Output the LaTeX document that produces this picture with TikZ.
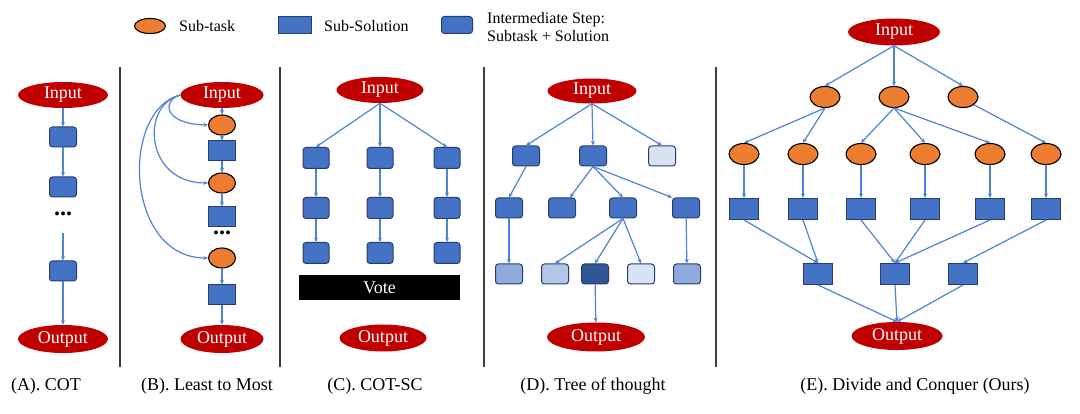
\documentclass[tikz,border=0pt]{standalone}
\usepackage{fontspec}
\setmainfont{Liberation Serif}
\usetikzlibrary{shapes.geometric,arrows.meta}
\definecolor{ioRed}{RGB}{192,0,0}
\definecolor{subOrange}{RGB}{237,125,49}
\definecolor{solBlue}{RGB}{68,114,196}
\definecolor{solEdge}{RGB}{38,62,110}
\definecolor{lineBlue}{RGB}{80,130,215}
\definecolor{lightA}{RGB}{143,170,220}
\definecolor{lightB}{RGB}{180,199,231}
\definecolor{lightC}{RGB}{218,227,243}
\definecolor{darkSol}{RGB}{47,85,151}
\definecolor{divGray}{RGB}{60,60,60}
\newcommand\fio{\fontsize{18}{20}\selectfont}
\newcommand\flab{\fontsize{18}{21}\selectfont}
\newcommand\fleg{\fontsize{16}{18}\selectfont}
\tikzset{
  io/.style={ellipse,fill=ioRed,draw=none,text=white,inner sep=0pt,font=\fio},
  subtask/.style={ellipse,fill=subOrange,draw=black,line width=1.1pt,inner sep=0pt,minimum width=27pt,minimum height=20pt},
  subsol/.style={rectangle,fill=solBlue,draw=solEdge,line width=1pt,inner sep=0pt,minimum width=27pt,minimum height=20pt},
  stepbox/.style={rectangle,rounded corners=3pt,fill=solBlue,draw=solEdge,line width=1pt,inner sep=0pt,minimum width=27pt,minimum height=20pt},
  arr/.style={draw=lineBlue,line width=1.2pt,-{Stealth[length=4.5pt,width=4pt]}},
  divider/.style={draw=divGray,line width=1.3pt},
  caption/.style={font=\flab,inner sep=0pt},
  legtext/.style={font=\fleg,inner sep=0pt,anchor=west,align=left},
  dotsnode/.style={font=\bfseries\fontsize{24}{24}\selectfont,inner sep=0pt}
}
\begin{document}
\begin{tikzpicture}[x=1pt,y=-1pt]
\useasboundingbox (0,0) rectangle (1080,414);
\fill[white] (0,0) rectangle (1080,414);

% ---------- legend ----------
\node[subtask,minimum width=31pt,minimum height=15pt] (lg1) at (150,26) {};
\node[legtext] (lt1) at (179,26) {Sub-task};
\node[subsol,minimum width=33pt,minimum height=17pt] (lg2) at (295,25) {};
\node[legtext] (lt2) at (324,26) {Sub-Solution};
\node[stepbox,minimum width=31pt,minimum height=17pt] (lg3) at (457,25) {};
\node[legtext] (lt3) at (487,27) {Intermediate Step:\\Subtask + Solution};

% ---------- dividers ----------
\coordinate (v1a) at (120,67); \coordinate (v1b) at (120,367);
\coordinate (v2a) at (280,67); \coordinate (v2b) at (280,367);
\coordinate (v3a) at (484,67); \coordinate (v3b) at (484,367);
\coordinate (v4a) at (716,67); \coordinate (v4b) at (716,367);
\draw[divider] (v1a) -- (v1b);
\draw[divider] (v2a) -- (v2b);
\draw[divider] (v3a) -- (v3b);
\draw[divider] (v4a) -- (v4b);

% ---------- (A) COT ----------
\node[io,minimum width=90pt,minimum height=26pt] (inA) at (63,95) {Input};
\node[stepbox] (a1) at (63,137) {};
\node[stepbox] (a2) at (63,187) {};
\node[dotsnode] (dA) at (63,214) {...};
\coordinate (dAe) at (63,233);
\node[stepbox] (a3) at (63,271) {};
\node[io,minimum width=90pt,minimum height=28pt] (outA) at (63,339) {Output};
\draw[arr] (inA) -- (a1);
\draw[arr] (a1) -- (a2);
\draw[arr] (dAe) -- (a3);
\draw[arr] (a3) -- (outA);

% ---------- (B) Least to Most ----------
\node[io,minimum width=83pt,minimum height=26pt] (inB) at (222,95) {Input};
\node[subtask] (b1e) at (222,125) {};
\node[subsol] (b1s) at (222,151) {};
\node[subtask] (b2e) at (222,183) {};
\node[subsol] (b2s) at (222,217) {};
\node[dotsnode] (dB) at (222,233) {...};
\node[subtask] (b3e) at (222,258) {};
\node[subsol] (b3s) at (222,295) {};
\node[io,minimum width=83pt,minimum height=28pt] (outB) at (222,339) {Output};
\draw[arr] (inB) -- (b1e);
\draw[arr] (b1e) -- (b1s);
\draw[arr] (b1s) -- (b2e);
\draw[arr] (b2e) -- (b2s);
\draw[arr] (b3e) -- (b3s);
\draw[arr] (b3s) -- (outB);
\draw[arr] (inB.west) .. controls (162,100) and (163,124) .. (b1e.west);
\draw[arr] (inB.west) .. controls (140,105) and (145,183) .. (b2e.west);
\draw[arr] (inB.west) .. controls (120,110) and (125,258) .. (b3e.west);

% ---------- (C) COT-SC ----------
\node[io,minimum width=87pt,minimum height=26pt] (inC) at (380,90) {Input};
\foreach \c/\x in {1/316,2/380,3/447}{
  \node[stepbox,minimum width=26pt,minimum height=21pt] (c1\c) at (\x,158) {};
  \node[stepbox,minimum width=26pt,minimum height=21pt] (c2\c) at (\x,208) {};
  \node[stepbox,minimum width=26pt,minimum height=21pt] (c3\c) at (\x,253) {};
  \draw[arr] (inC.south) -- (c1\c.north);
  \draw[arr] (c1\c) -- (c2\c);
  \draw[arr] (c2\c) -- (c3\c);
}
\node[rectangle,fill=black,text=white,inner sep=0pt,minimum width=161pt,minimum height=25pt,font=\fio] (vote) at (379.5,287.5) {Vote};
\node[io,minimum width=87pt,minimum height=27pt] (outC) at (383,338) {Output};

% ---------- (D) Tree of thought ----------
\node[io,minimum width=89pt,minimum height=25pt] (inD) at (592,91) {Input};
\node[stepbox] (d11) at (526,156) {};
\node[stepbox] (d12) at (593,156) {};
\node[stepbox,fill=lightC] (d13) at (662,156) {};
\node[stepbox] (d21) at (509,208) {};
\node[stepbox] (d22) at (562,208) {};
\node[stepbox] (d23) at (623,208) {};
\node[stepbox] (d24) at (686,208) {};
\node[stepbox,fill=lightA] (d31) at (509,274) {};
\node[stepbox,fill=lightB] (d32) at (555,274) {};
\node[stepbox,fill=darkSol] (d33) at (595,274) {};
\node[stepbox,fill=lightC] (d34) at (641,274) {};
\node[stepbox,fill=lightA] (d35) at (687,274) {};
\node[io,minimum width=98pt,minimum height=29pt] (outD) at (596,337) {Output};
\draw[arr] (inD.south) -- (d11.north);
\draw[arr] (inD.south) -- (d12.north);
\draw[arr] (inD.south) -- (d13.north);
\draw[arr] (d11.south) -- (d21.north);
\draw[arr] (d12.south) -- (d22);
\draw[arr] (d12.south) -- (d23.north);
\draw[arr] (d12.south) -- (d24.north west);
\draw[arr] (d21) -- (d31);
\draw[arr] (d23.south) -- (d32.north);
\draw[arr] (d23.south) -- (d33.north);
\draw[arr] (d23.south) -- (d34.north);
\draw[arr] (d24) -- (d35);
\draw[arr] (d33) -- (outD);

% ---------- (E) Divide and Conquer ----------
\node[io,minimum width=92pt,minimum height=27pt] (inE) at (894,32) {Input};
\node[subtask,minimum width=30pt,minimum height=21pt] (e11) at (825,97) {};
\node[subtask,minimum width=30pt,minimum height=21pt] (e12) at (894,97) {};
\node[subtask,minimum width=30pt,minimum height=21pt] (e13) at (963,97) {};
\foreach \i/\x in {1/744,2/803,3/861,4/925,5/990,6/1046}{
  \node[subtask,minimum width=30pt,minimum height=21pt] (e2\i) at (\x,154) {};
  \node[subsol,minimum width=29pt,minimum height=21pt] (e3\i) at (\x,209) {};
  \draw[arr] (e2\i) -- (e3\i);
}
\node[subsol,minimum width=29pt,minimum height=21pt] (e41) at (818,274) {};
\node[subsol,minimum width=29pt,minimum height=21pt] (e42) at (895,274) {};
\node[subsol,minimum width=29pt,minimum height=21pt] (e43) at (963,274) {};
\node[io,minimum width=91pt,minimum height=28pt] (outE) at (897,336) {Output};
\draw[arr] (inE.south) -- (e11.north);
\draw[arr] (inE.south) -- (e12.north);
\draw[arr] (inE.south) -- (e13.north);
\draw[arr] (e11.south) -- (e21.north);
\draw[arr] (e11.south) -- (e22.north);
\draw[arr] (e12.south) -- (e23.north);
\draw[arr] (e12.south) -- (e24.north);
\draw[arr] (e12.south) -- (e25.north);
\draw[arr] (e13.south east) -- (e26.north);
\draw[arr] (e31.south) -- (e41.north);
\draw[arr] (e32.south) -- (e41.north);
\draw[arr] (e33.south) -- (e42.north);
\draw[arr] (e34.south) -- (e42.north);
\draw[arr] (e35.south) -- (e42.north);
\draw[arr] (e36.south) -- (e43.north);
\draw[arr] (e41.south) -- (outE.north);
\draw[arr] (e42.south) -- (outE.north);
\draw[arr] (e43.south) -- (outE.north);

% ---------- captions ----------
\node[caption] (capA) at (46,386) {(A). COT};
\node[caption] (capB) at (207,386) {(B). Least to Most};
\node[caption] (capC) at (375,386) {(C). COT-SC};
\node[caption] (capD) at (593,386) {(D). Tree of thought};
\node[caption] (capE) at (915,386) {(E). Divide and Conquer (Ours)};
\end{tikzpicture}
\end{document}
